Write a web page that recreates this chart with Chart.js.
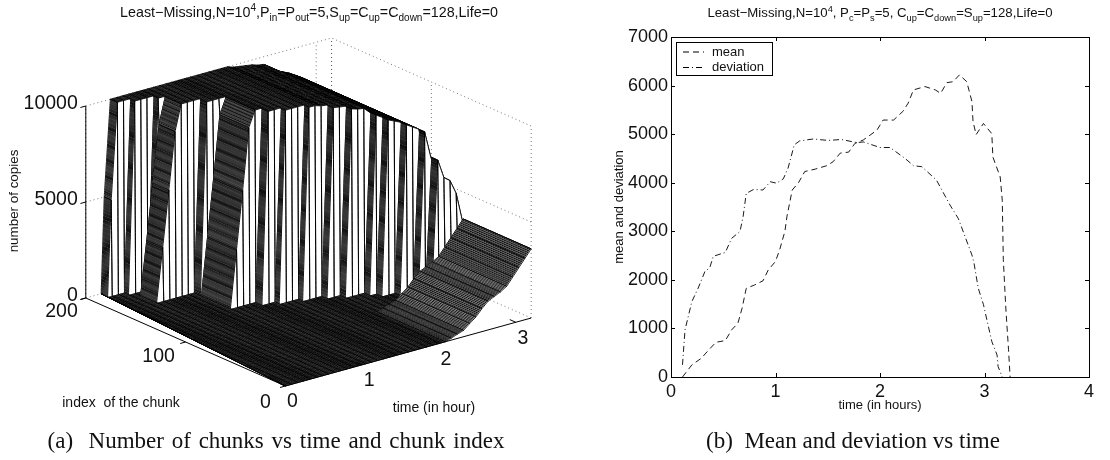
<!DOCTYPE html>
<html>
<head>
<meta charset="utf-8">
<title>Least-Missing chunks</title>
<script src="https://cdn.jsdelivr.net/npm/chart.js@4/dist/chart.umd.min.js"></script>
<style>
  body { margin: 0; background: #fff; width: 1110px; height: 460px; position: relative; overflow: hidden; }
  canvas { position: absolute; top: 0; }
  #surface { left: 0; }
  #lines { left: 555px; }
  .title, .caption { position: absolute; white-space: nowrap; transform: translateX(-50%); color: #111; }
  .title { font-family: "Liberation Sans", sans-serif; }
  .title sub, .title sup { font-size: 70%; line-height: 0; }
  .caption { font: 23px "Liberation Serif", serif; top: 428px; }
</style>
</head>
<body>
<canvas id="surface" width="555" height="460"></canvas>
<canvas id="lines" width="555" height="460"></canvas>
<div class="title" style="left:309px;top:4px;font-size:14.3px">Least&minus;Missing,N=10<sup>4</sup>,P<sub>in</sub>=P<sub>out</sub>=5,S<sub>up</sub>=C<sub>up</sub>=C<sub>down</sub>=128,Life=0</div>
<div class="title" style="left:880px;top:5px;font-size:13.2px">Least&minus;Missing,N=10<sup>4</sup>, P<sub>c</sub>=P<sub>s</sub>=5, C<sub>up</sub>=C<sub>down</sub>=S<sub>up</sub>=128,Life=0</div>
<div class="caption" style="left:276px;word-spacing:2px">(a)&nbsp; Number of chunks vs time and chunk index</div>
<div class="caption" style="left:853px">(b)&nbsp; Mean and deviation vs time</div>
<script>
// right panel
const meanTime = [0.11,0.2,0.29,0.36,0.43,0.52,0.58,0.64,0.68,0.72,0.8,0.88,0.93,1.0,1.04,1.09,1.11,1.16,1.22,1.28,1.38,1.49,1.55,1.62,1.7,1.76,1.84,1.97,2.03,2.13,2.22,2.27,2.32,2.43,2.53,2.58,2.64,2.7,2.76,2.83,2.88,2.89,2.92,2.99,3.07,3.08,3.15,3.17,3.18,3.205,3.23,3.245];
const meanValues = [0,250,385,555,715,750,970,1105,1415,1825,1895,1980,2200,2380,2620,3000,3310,3850,4000,4230,4280,4350,4430,4610,4630,4810,4880,5080,5290,5290,5470,5640,5910,5980,5910,5840,6060,6080,6220,6080,5670,5260,4990,5220,5010,4530,4120,3640,2415,1380,560,0];
const devTime = [0.11,0.134,0.2,0.26,0.325,0.37,0.405,0.52,0.58,0.66,0.69,0.72,0.79,0.88,0.95,1.01,1.075,1.12,1.18,1.23,1.36,1.505,1.63,1.78,1.84,2.0,2.095,2.24,2.32,2.4,2.54,2.67,2.75,2.88,2.9,2.94,2.99,3.07,3.12,3.13,3.17];
const devValues = [250,970,1555,1830,2175,2245,2485,2565,2855,2995,3300,3780,3860,3850,4020,3990,4080,4300,4780,4860,4900,4870,4890,4825,4840,4725,4725,4500,4350,4330,4055,3540,3260,2510,2340,1830,1490,730,455,215,0];
const xTicksRight = [0,1,2,3,4];
const yTicksRight = [0,1000,2000,3000,4000,5000,6000,7000];

// left panel: time samples of the mesh (hours)
const timeSamples = [0,0.08,0.16,0.24,0.32,0.4,0.48,0.56,0.64,0.72,0.8,0.88,0.96,1.04,1.12,1.2,1.28,1.36,1.44,1.52,1.6,1.68,1.76,1.84,1.92,2.0,2.08,2.16,2.24,2.32,2.4,2.48,2.56,2.64,2.72,2.8,2.88,2.96,3.04,3.12,3.2];
// chunks that fill up together: first row of the group, hour it reaches the top, levels in the samples before that
const groupTopRow = [200,192,187,182,165,158,128,121,116,111,105,99,93,87,81,75];
const groupRise = [0.32,0.48,0.72,0.8,1.04,1.28,1.36,1.52,1.76,2.0,2.16,2.4,2.48,2.64,2.8,2.88];
const groupSteps = [[5000],[],[],[8650,5700,2800],[],[9170,6000,3000],[],[],[],[],[],[],[],[],[],[]];
const lastGroupRow = 69;
// copies left in the upper rows from 1.92 h on, and the level of the lowest rows from 1.92 h on
const fallLevels = [9900,9850,9800,9750,9650,9600,9300,9100,8950,8800,8600,8400,7000,6000,5750,5000,3500];
const lowRowLevels = [0,0,0,100,220,330,600,850,1200,1500,1650,1800,2000,2400,2800,3200,3600];
const fallStart = 24;
const farRowStart = 0.2;   // the mesh of the last row starts this late

const xTicksLeft = [0,1,2,3];
const iTicksLeft = [0,100,200];
const zTicksLeft = [0,5000,10000];
const tMax = 3.2, iMax = 200, zMax = 10000;

// view of the 3D box
function project(t, i, z) {
  return {
    x: 285.4 + 76.8 * t - 0.998 * i,
    y: 386 - 21.25 * t - 0.44 * i - 0.0192 * z
  };
}

function lowLevel(k) {
  return k < fallStart ? 0 : lowRowLevels[k - fallStart];
}

function rowLevel(row, k) {
  if (row < lastGroupRow) return lowLevel(k);
  let g = groupTopRow.length - 1;
  while (g > 0 && row > groupTopRow[g]) g--;
  const riseK = timeSamples.indexOf(groupRise[g]);
  if (k < riseK) return groupSteps[g][riseK - k - 1] || 0;
  return k >= fallStart ? fallLevels[k - fallStart] : zMax;
}

function rowPoint(row, k) {
  const t = Math.max(timeSamples[k], farRowStart * row / iMax);
  return project(t, row, rowLevel(row, k));
}

function rowStrip(row) {
  const pts = [];
  const n = timeSamples.length;
  for (let k = 0; k < n; k++) {
    const far = rowPoint(row + 1, k);
    pts.push(far, rowPoint(row, k), far);
  }
  for (let k = n - 1; k >= 0; k--) pts.push(rowPoint(row, k));
  pts.push(pts[0]);
  return pts;
}

function lineSet(pts, opts) {
  return Object.assign({ data: pts, showLine: true, pointRadius: 0, borderColor: '#000', borderWidth: 1, fill: false }, opts);
}

const dotted = { borderColor: '#555', borderWidth: 0.8, borderDash: [1, 3] };
const solid = { borderColor: '#000', borderWidth: 1 };

// chart draws the first dataset last, so front comes first
const surfaceSets = [];
surfaceSets.push(lineSet([project(0, iMax, 0), project(0, iMax, zMax)], solid));
surfaceSets.push(lineSet([project(0, iMax, 0), project(0, 0, 0), project(tMax, 0, 0)], solid));
zTicksLeft.forEach(z => surfaceSets.push(lineSet([project(0, iMax, z), project(-0.07, iMax, z)], solid)));
iTicksLeft.forEach(i => surfaceSets.push(lineSet([project(0, i, 0), project(-0.07, i, 0)], solid)));
xTicksLeft.forEach(t => surfaceSets.push(lineSet([project(t, 0, 0), project(t, 6, 0)], solid)));
for (let row = 0; row < iMax; row++) {
  surfaceSets.push(lineSet(rowStrip(row), { fill: 'shape', backgroundColor: '#fff', borderWidth: 0.9, tension: 0.0001 }));
}
// back walls
zTicksLeft.forEach(z => {
  surfaceSets.push(lineSet([project(0, iMax, z), project(tMax, iMax, z), project(tMax, 0, z)], dotted));
});
xTicksLeft.forEach(t => surfaceSets.push(lineSet([project(t, iMax, 0), project(t, iMax, zMax)], dotted)));
iTicksLeft.forEach(i => surfaceSets.push(lineSet([project(tMax, i, 0), project(tMax, i, zMax)], dotted)));
surfaceSets.push(lineSet([project(tMax, iMax, 0), project(tMax, iMax, zMax)], dotted));

const surfaceLabels = {
  id: 'surfaceLabels',
  afterDraw(chart) {
    const { ctx, scales } = chart;
    const put = (text, px, py, font, align) => {
      ctx.font = font;
      ctx.textAlign = align;
      ctx.textBaseline = 'middle';
      ctx.fillStyle = '#111';
      ctx.fillText(text, scales.x.getPixelForValue(px), scales.y.getPixelForValue(py));
    };
    const big = '19.5px "Liberation Sans"', small = '14px "Liberation Sans"';
    zTicksLeft.forEach(z => {
      const p = project(0, iMax, z);
      put(String(z), p.x - 8, p.y - 2, big, 'right');
    });
    iTicksLeft.slice().reverse().forEach(i => {
      const p = project(0, i, 0);
      const off = i === 200 ? [-8, 14, 'right'] : i === 100 ? [-27, 15, 'center'] : [-20, 17, 'center'];
      put(String(i), p.x + off[0], p.y + off[1], big, off[2]);
    });
    xTicksLeft.forEach(t => {
      const p = project(t, 0, 0);
      put(String(t), p.x + 7, p.y + 16, big, 'center');
    });
    put('index  of the chunk', 121, 403, small, 'center');
    put('time (in hour)', 434, 408, small, 'center');
    ctx.save();
    ctx.translate(scales.x.getPixelForValue(14), scales.y.getPixelForValue(201));
    ctx.rotate(-Math.PI / 2);
    ctx.font = '13.4px "Liberation Sans"';
    ctx.textAlign = 'center';
    ctx.textBaseline = 'middle';
    ctx.fillStyle = '#111';
    ctx.fillText('number of copies', 0, 0);
    ctx.restore();
  }
};

new Chart(document.getElementById('surface'), {
  type: 'scatter',
  data: { datasets: surfaceSets },
  options: {
    responsive: false,
    animation: false,
    events: [],
    layout: { padding: 0 },
    plugins: { legend: { display: false }, tooltip: { enabled: false } },
    scales: {
      x: { type: 'linear', display: false, min: 0, max: 555 },
      y: { type: 'linear', display: false, min: 0, max: 460, reverse: true }
    }
  },
  plugins: [surfaceLabels]
});

const boxAndLegend = {
  id: 'boxAndLegend',
  afterDatasetsDraw(chart) {
    const { ctx, chartArea: a, scales } = chart;
    ctx.save();
    ctx.strokeStyle = '#000';
    ctx.lineWidth = 1;
    ctx.strokeRect(a.left + 0.5, a.top + 0.5, a.right - a.left, a.bottom - a.top);
    ctx.beginPath();
    xTicksRight.forEach(v => {
      const x = Math.round(scales.x.getPixelForValue(v)) + 0.5;
      ctx.moveTo(x, a.bottom); ctx.lineTo(x, a.bottom - 4);
      ctx.moveTo(x, a.top); ctx.lineTo(x, a.top + 4);
    });
    yTicksRight.forEach(v => {
      const y = Math.round(scales.y.getPixelForValue(v)) + 0.5;
      ctx.moveTo(a.left, y); ctx.lineTo(a.left + 4, y);
      ctx.moveTo(a.right, y); ctx.lineTo(a.right - 4, y);
    });
    ctx.stroke();
    // legend box sits inside the plot, top left
    const lx = a.left + 5, ly = a.top + 5;
    ctx.fillStyle = '#fff';
    ctx.fillRect(lx, ly, 96, 33);
    ctx.strokeRect(lx + 0.5, ly + 0.5, 96, 33);
    ctx.font = '13px "Liberation Sans"';
    ctx.textBaseline = 'middle';
    ctx.fillStyle = '#111';
    chart.data.datasets.forEach((d, n) => {
      const y = ly + 10 + n * 15.5;
      ctx.setLineDash(d.borderDash);
      ctx.beginPath();
      ctx.moveTo(lx + 7, y);
      ctx.lineTo(lx + 28, y);
      ctx.stroke();
      ctx.setLineDash([]);
      ctx.fillText(d.label, lx + 36, y);
    });
    ctx.restore();
  }
};

new Chart(document.getElementById('lines'), {
  type: 'scatter',
  data: {
    datasets: [
      { label: 'mean', data: meanTime.map((t, n) => ({ x: t, y: meanValues[n] })), showLine: true, pointRadius: 0, borderColor: '#000', borderWidth: 0.9, borderDash: [6, 4] },
      { label: 'deviation', data: devTime.map((t, n) => ({ x: t, y: devValues[n] })), showLine: true, pointRadius: 0, borderColor: '#000', borderWidth: 0.9, borderDash: [6, 3, 1, 3] }
    ]
  },
  options: {
    responsive: false,
    animation: false,
    events: [],
    layout: { padding: { left: 57, right: 21, top: 37, bottom: 47 } },
    plugins: { legend: { display: false }, tooltip: { enabled: false } },
    scales: {
      x: {
        type: 'linear', min: 0, max: 4,
        afterBuildTicks: s => { s.ticks = xTicksRight.map(v => ({ value: v })); },
        afterFit: s => { s.height = 36; },
        ticks: { autoSkip: false, maxRotation: 0, padding: 4, color: '#111', callback: v => String(v), font: { family: 'Liberation Sans', size: 18 } },
        grid: { display: false, drawTicks: false },
        border: { display: false },
        title: { display: true, text: 'time (in hours)', color: '#111', padding: 0, font: { family: 'Liberation Sans', size: 13 } }
      },
      y: {
        type: 'linear', min: 0, max: 7000,
        afterBuildTicks: s => { s.ticks = yTicksRight.map(v => ({ value: v })); },
        afterFit: s => { s.width = 59; },
        ticks: { autoSkip: false, padding: 3, color: '#111', callback: v => String(v), font: { family: 'Liberation Sans', size: 18 } },
        grid: { display: false, drawTicks: false },
        border: { display: false },
        title: { display: true, text: 'mean and deviation', color: '#111', padding: 0, font: { family: 'Liberation Sans', size: 13 } }
      }
    }
  },
  plugins: [boxAndLegend]
});
</script>
</body>
</html>
